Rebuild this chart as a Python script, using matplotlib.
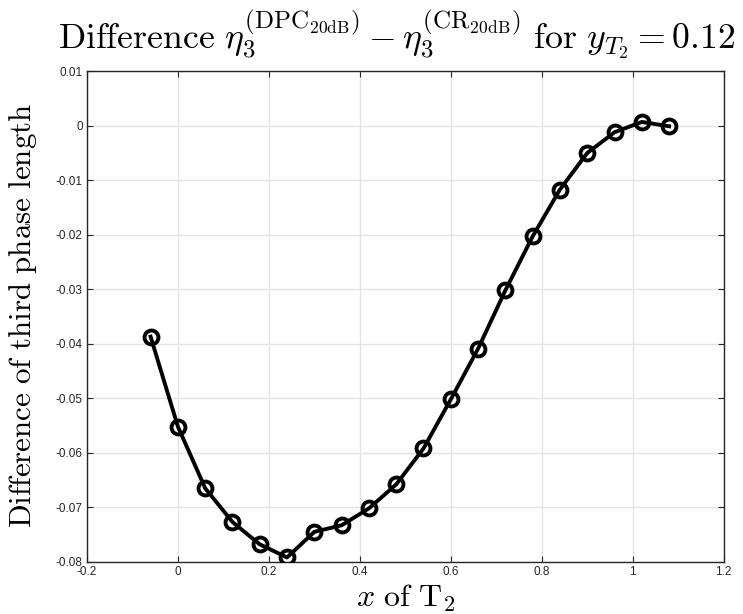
import matplotlib
matplotlib.use("Agg")
import matplotlib.pyplot as plt

# x position of T2 and the difference in third phase length
x_t2 = [-0.06, 0.0, 0.06, 0.12, 0.18, 0.24, 0.30, 0.36, 0.42, 0.48,
        0.54, 0.60, 0.66, 0.72, 0.78, 0.84, 0.90, 0.96, 1.02, 1.08]
eta_diff = [-0.0387, -0.0552, -0.0665, -0.0727, -0.0768, -0.0792, -0.0745,
            -0.0733, -0.0702, -0.0658, -0.0592, -0.0502, -0.0409, -0.0302,
            -0.0203, -0.0117, -0.0050, -0.0012, 0.0007, -0.0001]

x_ticks = [-0.2, 0, 0.2, 0.4, 0.6, 0.8, 1, 1.2]
x_ticklabels = ["-0.2", "0", "0.2", "0.4", "0.6", "0.8", "1", "1.2"]
y_ticks = [0.01, 0, -0.01, -0.02, -0.03, -0.04, -0.05, -0.06, -0.07, -0.08]
y_ticklabels = ["0.01", "0", "-0.01", "-0.02", "-0.03", "-0.04", "-0.05",
                "-0.06", "-0.07", "-0.08"]

plt.rcParams["mathtext.fontset"] = "cm"

fig = plt.figure(figsize=(7.43, 6.14), dpi=100)
ax = fig.add_axes([0.117, 0.085, 0.857, 0.799])

ax.plot(x_t2, eta_diff, color="black", lw=2.8, marker="o", ms=10,
        mfc="none", mec="black", mew=2.8, zorder=3)

ax.set_xlim(-0.2, 1.2)
ax.set_ylim(-0.08, 0.01)
ax.set_xticks(x_ticks)
ax.set_xticklabels(x_ticklabels, family="Liberation Sans", fontsize=8.5,
                   color="#262626")
ax.set_yticks(y_ticks)
ax.set_yticklabels(y_ticklabels, family="Liberation Sans", fontsize=8.5,
                   color="#262626")

ax.grid(True, color="#e3e3e3", lw=1.0)
ax.set_axisbelow(True)
ax.tick_params(direction="in", length=4, width=0.8, color="#262626",
               top=True, right=True, pad=3)
for s in ax.spines.values():
    s.set_color("#262626")
    s.set_linewidth(1.0)

ax.set_title(r"$\mathrm{Difference}\ \eta_3^{(\mathrm{DPC}_{20\mathrm{dB}})}"
             r" - \eta_3^{(\mathrm{CR}_{20\mathrm{dB}})}\ \mathrm{for}\ "
             r"y_{T_2} = 0.12$", fontsize=25.7, pad=16, x=0.487)
ax.set_ylabel(r"$\mathrm{Difference\ of\ third\ phase\ length}$",
              fontsize=22.3)
ax.yaxis.set_label_coords(-0.076, 0.503)
ax.set_xlabel(r"$x\ \mathrm{of\ T}_2$", fontsize=23, labelpad=3)

fig.savefig("out.png", dpi=100)
